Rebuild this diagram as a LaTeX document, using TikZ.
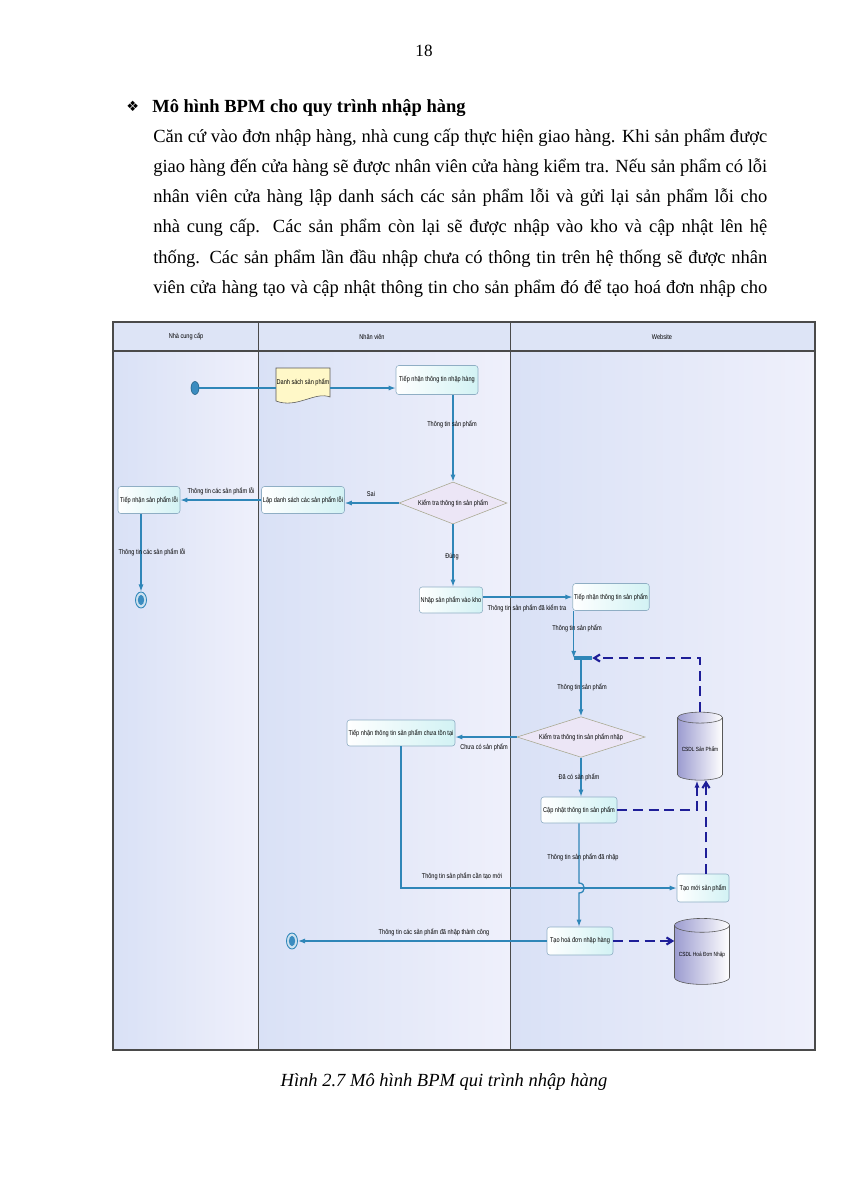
\documentclass[tikz,border=0pt]{standalone}
\usepackage{fontspec}
\setmainfont{Liberation Serif}
\newfontfamily\diagfont[FakeStretch=0.8]{Liberation Sans}
\newfontfamily\symfont{DejaVu Sans}
\usetikzlibrary{arrows.meta,positioning,calc,shapes.geometric}
\definecolor{flowline}{HTML}{2F86B8}
\definecolor{dashline}{HTML}{1E1E98}
\definecolor{boxline}{HTML}{8FAEC4}
\definecolor{boxfill}{HTML}{D2F2F4}
\definecolor{lanefill}{HTML}{D9E1F6}
\definecolor{lanefill2}{HTML}{EFF0FB}
\definecolor{headfill}{HTML}{DDE4F6}
\definecolor{gatefill}{HTML}{ECE6F6}
\definecolor{gateline}{HTML}{A8A890}
\definecolor{docfill}{HTML}{FFF8C8}
\definecolor{dbfill}{HTML}{9C9CD0}
\definecolor{framecol}{HTML}{4A4A4A}
\definecolor{evfill}{HTML}{3B8CC0}

\tikzset{
  sz/.style 2 args={minimum width=#1*0.702pt,minimum height=#2*0.702pt},
  dfont/.style={font=\diagfont\fontsize{4.9}{6}\selectfont},
  task/.style={draw=boxline,rounded corners=2pt,left color=white,right color=boxfill,inner sep=1pt,dfont},
  gate/.style={diamond,aspect=2.5,draw=gateline,fill=gatefill,inner sep=0pt,dfont},
  db/.style={cylinder,shape border rotate=90,aspect=0.3,draw=gray!70!black,inner sep=0pt,
    font=\diagfont\fontsize{4.2}{5}\selectfont,
    path picture={\shade[left color=dbfill,right color=white]
      (path picture bounding box.south west) rectangle (path picture bounding box.north east);}},
  lbl/.style={inner sep=0.5pt,dfont},
  lanehead/.style={inner sep=0.5pt,dfont},
  startev/.style={ellipse,draw=flowline!70!black,fill=evfill,inner sep=0pt,sz={8}{13}},
  endev/.style={ellipse,draw=flowline,line width=0.6pt,fill=evfill!25,inner sep=0pt,sz={11}{16},
    path picture={\fill[evfill] (path picture bounding box.center) ellipse (2.2pt and 3.6pt);}},
  joinbar/.style={rectangle,fill=flowline,inner sep=0pt,sz={18}{4}},
  flow/.style={draw=flowline,line width=0.9pt,-{Latex[length=5pt,width=3.6pt]}},
  flowplain/.style={draw=flowline,line width=0.9pt},
  dashx/.style={draw=dashline,line width=1.5pt,dash pattern=on 7pt off 4pt},
  bodyline/.style={anchor=base west,inner sep=0pt,font=\fontsize{13}{15}\selectfont},
}

\begin{document}
\begin{tikzpicture}[x=0.702pt,y=-0.702pt]
  \useasboundingbox[fill=white] (0,0) rectangle (848,1200);

  % page text
  \node[anchor=base,inner sep=0pt,font=\fontsize{12}{14}\selectfont] (pno) at (424,56) {18};
  \node[anchor=base west,inner sep=0pt] (bul) at (126,111) {\symfont\fontsize{10}{11}\selectfont ❖};
  \node[anchor=base west,inner sep=0pt,font=\bfseries\fontsize{13}{15}\selectfont] (head) at (152,112)
    {Mô hình BPM cho quy trình nhập hàng};
  \foreach \txt [count=\i] in {
    {Căn cứ vào đơn nhập hàng, nhà cung cấp thực hiện giao hàng. Khi sản phẩm được},
    {giao hàng đến cửa hàng sẽ được nhân viên cửa hàng kiểm tra. Nếu sản phẩm có lỗi},
    {nhân viên cửa hàng lập danh sách các sản phẩm lỗi và gửi lại sản phẩm lỗi cho},
    {nhà cung cấp. Các sản phẩm còn lại sẽ được nhập vào kho và cập nhật lên hệ},
    {thống. Các sản phẩm lần đầu nhập chưa có thông tin trên hệ thống sẽ được nhân},
    {viên cửa hàng tạo và cập nhật thông tin cho sản phẩm đó để tạo hoá đơn nhập cho}}{
    \node[bodyline] (line\i) at (153,{112+30.2*\i}) {\makebox[431pt][s]{\txt}};
  }
  \node[anchor=base,inner sep=0pt,font=\itshape\fontsize{13}{15}\selectfont] (cap) at (444,1086)
    {Hình 2.7 Mô hình BPM qui trình nhập hàng};

  % swimlanes
  \foreach \xa/\xb in {113/258,258/510,510/815}{
    \fill[left color=lanefill,right color=lanefill2] (\xa,351) rectangle (\xb,1050);
    \fill[headfill] (\xa,322) rectangle (\xb,351);
  }
  \draw[framecol,line width=1pt] (113,322) rectangle (815,1050) (113,351) -- (815,351);
  \draw[framecol,line width=0.7pt] (258,322) -- (258,1050) (510,322) -- (510,1050);
  \node[lanehead] (h1) at (186,337) {Nhà cung cấp};
  \node[lanehead] (h2) at (372,337) {Nhân viên};
  \node[lanehead] (h3) at (662,337) {Website};

  % start and document
  \node[startev] (start) at (195,388) {};
  \coordinate (docc) at (303,383);
  \draw[draw=gray!70!black,fill=docfill,line width=0.4pt]
    ($(docc)+(-27,-15)$) -- ($(docc)+(27,-15)$) -- ($(docc)+(27,14)$)
    .. controls ($(docc)+(12,8)$) and ($(docc)+(-6,26)$) .. ($(docc)+(-27,18)$) -- cycle;
  \node[inner sep=0pt,sz={54}{30},dfont] (doc) at (303,382) {Danh sách sản phẩm};
  \node[task,sz={82}{29}] (tnh) at (437,380) {Tiếp nhận thông tin nhập hàng};
  \draw[flowplain] (start) -- (start -| doc.west);
  \draw[flow] (doc.east |- start) -- (tnh.west |- start);

  % first check
  \node[gate,sz={108}{42}] (kt1) at (453,503) {Kiểm tra thông tin sản phẩm};
  \draw[flow] (tnh.south -| kt1) -- (kt1.north);
  \node[lbl] at (452,424) {Thông tin sản phẩm};
  \node[task,sz={82}{27}] (lds) at (303,500) {Lập danh sách các sản phẩm lỗi};
  \draw[flow] (kt1.west) -- (kt1.west -| lds.east);
  \node[lbl] at (371,494) {Sai};
  \node[task,sz={62}{27}] (tnsl) at (149,500) {Tiếp nhận sản phẩm lỗi};
  \draw[flow] (lds.west) -- (tnsl.east);
  \node[lbl] at (221,491) {Thông tin các sản phẩm lỗi};
  \node[endev] (end1) at (141,600) {};
  \draw[flow] (tnsl.south -| end1) -- (end1.north);
  \node[lbl] at (152,552) {Thông tin các sản phẩm lỗi};
  \node[task,sz={62}{26}] (nsk) at (451,600) {Nhập sản phẩm vào kho};
  \draw[flow] (kt1.south) -- (kt1.south |- nsk.north);
  \node[lbl] at (452,557) {Đúng};

  % website side
  \node[task,sz={76}{27}] (tntsp) at (611,597) {Tiếp nhận thông tin sản phẩm};
  \draw[flow] (nsk.east |- tntsp) -- (tntsp.west);
  \node[lbl] at (527,608) {Thông tin sản phẩm đã kiểm tra};
  \node[joinbar] (join) at (583,658) {};
  \draw[flow] (tntsp.south -| join.west) -- (join.west);
  \node[lbl] at (577,628) {Thông tin sản phẩm};
  \node[gate,sz={128}{40}] (kt2) at (581,737) {Kiểm tra thông tin sản phẩm nhập};
  \draw[flow] (join.south -| kt2) -- (kt2.north);
  \node[lbl] at (582,687) {Thông tin sản phẩm};
  \node[task,sz={108}{26}] (tnct) at (401,733) {Tiếp nhận thông tin sản phẩm chưa tồn tại};
  \draw[flow] (kt2.west) -- (kt2.west -| tnct.east);
  \node[lbl] at (484,747) {Chưa có sản phẩm};
  \node[task,sz={76}{26}] (cn) at (579,810) {Cập nhật thông tin sản phẩm};
  \draw[flow] (kt2.south) -- (kt2.south |- cn.north);
  \node[lbl] at (579,777) {Đã có sản phẩm};
  \node[db,sz={45}{68}] (dbsp) at (700,749) {CSDL Sản Phẩm};
  \node[task,sz={52}{28}] (tm) at (703,888) {Tạo mới sản phẩm};
  \draw[flow] (tnct.south) |- (tm.west);
  \node[lbl] at (462,876) {Thông tin sản phẩm cần tạo mới};
  \node[task,sz={66}{28}] (thd) at (580,941) {Tạo hoá đơn nhập hàng};
  \coordinate (hop) at (cn.south |- tm.west);
  \draw[flow] (cn.south) -- ($(hop)+(0,-5)$) .. controls ($(hop)+(7,-5)$) and ($(hop)+(7,5)$) .. ($(hop)+(0,5)$)
    -- (cn.south |- thd.north);
  \node[lbl] at (583,857) {Thông tin sản phẩm đã nhập};
  \node[endev] (end2) at (292,941) {};
  \draw[flow] (thd.west) -- (end2.east);
  \node[lbl] at (434,932) {Thông tin các sản phẩm đã nhập thành công};
  \node[db,sz={55}{66}] (dbhd) at (702,955) {CSDL Hoá Đơn Nhập};

  % database links
  \coordinate (dbin1) at ($(dbsp.south)+(-3,0)$);
  \coordinate (dbin2) at ($(dbsp.south)+(6,0)$);
  \draw[dashx,-{Straight Barb[length=4pt,width=5pt]}] (dbsp.north) -- (dbsp.north |- join) -- (join.east);
  \draw[dashx,-{Latex[length=5pt,width=3.5pt]}] (cn.east) -| (dbin1);
  \draw[dashx,-{Straight Barb[length=4pt,width=5pt]}] (tm.north -| dbin2) -- (dbin2);
  \draw[dashx,-{Straight Barb[length=4pt,width=5pt]}] (thd.east) -- (thd.east -| dbhd.west);
\end{tikzpicture}
\end{document}
